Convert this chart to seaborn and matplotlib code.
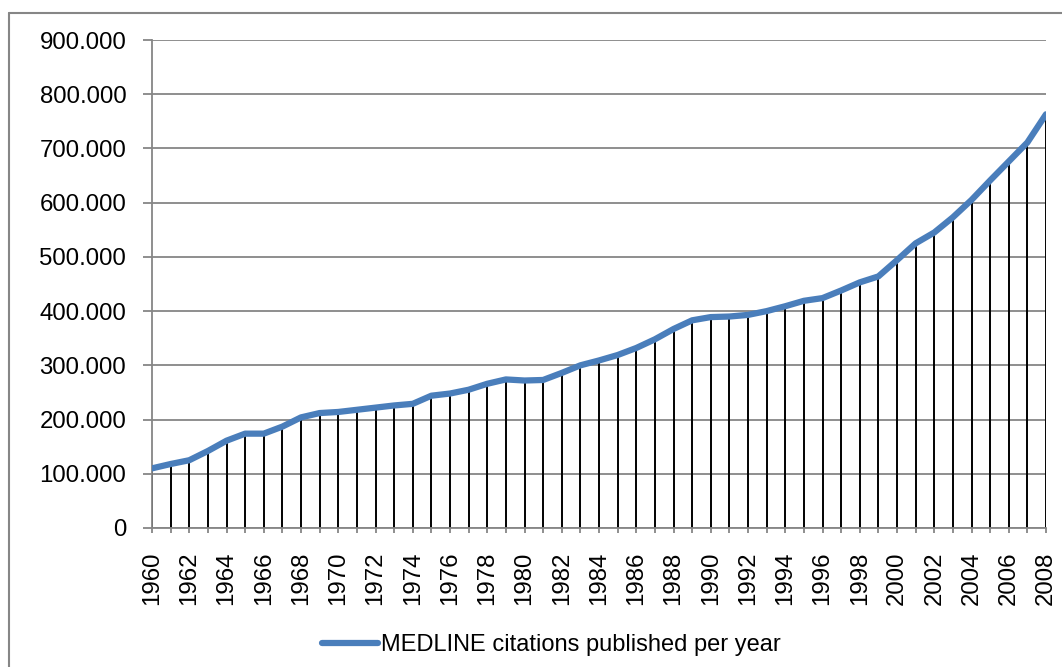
import matplotlib
matplotlib.use("Agg")
import matplotlib.pyplot as plt
from matplotlib.lines import Line2D
from matplotlib.ticker import FuncFormatter, MultipleLocator
import seaborn as sns
import pandas as pd

# MEDLINE citations published per year, 1960-2008
years = list(range(1960, 2009))
citations = [
    110000, 118000, 125000, 142000, 161000, 174000, 174000, 187000, 204000, 212000,
    214000, 218000, 222000, 226000, 229000, 244000, 248000, 255000, 266000, 274000,
    272000, 273000, 286000, 300000, 309000, 319000, 332000, 348000, 367000, 383000,
    389000, 390000, 393000, 400000, 409000, 419000, 424000, 438000, 453000, 464000,
    494000, 525000, 545000, 573000, 605000, 641000, 676000, 711000, 763000,
]
series_label = "MEDLINE citations published per year"
y_ticks = [0, 100000, 200000, 300000, 400000, 500000, 600000, 700000, 800000, 900000]

df = pd.DataFrame({"year": years, "citations": citations})

sns.set_style("white")
plt.rcParams["font.family"] = ["Liberation Sans", "DejaVu Sans"]
plt.rcParams["text.color"] = "black"
plt.rcParams["xtick.labelcolor"] = "black"
plt.rcParams["ytick.labelcolor"] = "black"

axis_grey = "#868686"
line_blue = "#4a7ebb"

fig = plt.figure(figsize=(10.62, 6.67), dpi=100)
ax = fig.add_axes([152 / 1062, 1 - 528 / 667, (1046 - 152) / 1062, (528 - 40) / 667])

# horizontal gridlines behind everything
ax.set_axisbelow(True)
ax.yaxis.grid(True, color=axis_grey, linewidth=1.3)
ax.xaxis.grid(False)

# drop lines from each data point to the axis
ax.vlines(df["year"], 0, df["citations"], color="black", linewidth=1.4, zorder=2)

sns.lineplot(data=df, x="year", y="citations", ax=ax, color=line_blue,
             linewidth=4.5, solid_capstyle="round", zorder=3, legend=False)

ax.set_xlim(1960, 2008)
ax.set_ylim(0, 900000)
ax.set_yticks(y_ticks)
ax.yaxis.set_major_formatter(
    FuncFormatter(lambda v, _: "0" if v == 0 else f"{int(v):,}".replace(",", "."))
)
ax.xaxis.set_major_locator(MultipleLocator(2))
ax.xaxis.set_minor_locator(MultipleLocator(1))
ax.xaxis.set_major_formatter(FuncFormatter(lambda v, _: f"{int(v)}"))

ax.set_xlabel("")
ax.set_ylabel("")

for side in ("top", "right"):
    ax.spines[side].set_visible(False)
for side in ("left", "bottom"):
    ax.spines[side].set_color(axis_grey)
    ax.spines[side].set_linewidth(1.3)

ax.tick_params(axis="y", which="major", direction="out", length=6.5, width=1.3,
               color=axis_grey, labelcolor="black", labelsize=17.3, pad=12, left=True)
ax.tick_params(axis="x", which="both", direction="out", length=3.8, width=1.3,
               color=axis_grey, bottom=True)
ax.tick_params(axis="x", which="major", labelcolor="black", labelsize=17.3, pad=13,
               labelrotation=90)

# chart frame: top and left edges (right and bottom lie outside the image)
frame_left = 8.5 / 1062
frame_top = 1 - 12.5 / 667
fig.add_artist(Line2D([frame_left, 1.0], [frame_top, frame_top], transform=fig.transFigure,
                      color=axis_grey, linewidth=1.5))
fig.add_artist(Line2D([frame_left, frame_left], [0.0, frame_top], transform=fig.transFigure,
                      color=axis_grey, linewidth=1.5))

handle = Line2D([0], [0], color=line_blue, linewidth=4.5, solid_capstyle="round")
fig.legend([handle], [series_label], loc="center", bbox_to_anchor=(551 / 1062, 1 - 645 / 667),
           frameon=False, fontsize=17, handlelength=2.4, handletextpad=0.1,
           borderaxespad=0, labelcolor="black")

fig.savefig("out.png", dpi=100)
